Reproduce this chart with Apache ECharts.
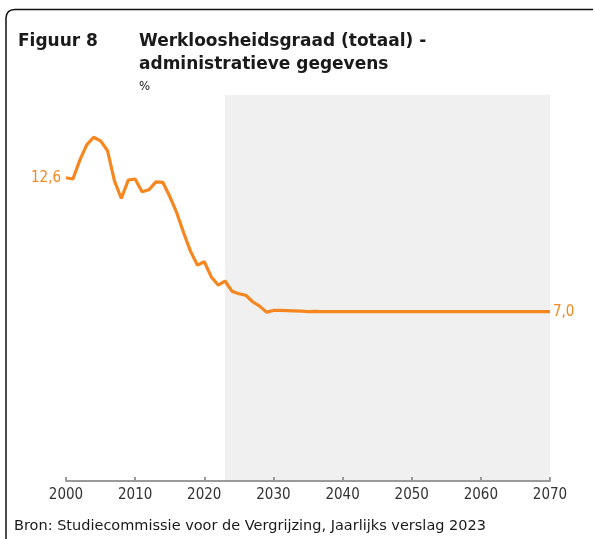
<!DOCTYPE html>
<html>
<head>
<meta charset="utf-8">
<script src="https://cdn.jsdelivr.net/npm/echarts@6/dist/echarts.min.js"></script>
<style>
  html, body { margin: 0; padding: 0; background: #fff; }
  #chart { width: 595px; height: 539px; }
</style>
</head>
<body>
<div id="chart"></div>
<script>
  // jaren 2000 - 2070
  var years = [
    2000, 2001, 2002, 2003, 2004, 2005, 2006, 2007, 2008, 2009,
    2010, 2011, 2012, 2013, 2014, 2015, 2016, 2017, 2018, 2019,
    2020, 2021, 2022, 2023, 2024, 2025, 2026, 2027, 2028, 2029,
    2030, 2031, 2032, 2033, 2034, 2035, 2036, 2037, 2038, 2039,
    2040, 2041, 2042, 2043, 2044, 2045, 2046, 2047, 2048, 2049,
    2050, 2051, 2052, 2053, 2054, 2055, 2056, 2057, 2058, 2059,
    2060, 2061, 2062, 2063, 2064, 2065, 2066, 2067, 2068, 2069,
    2070
  ]
  // werkloosheidsgraad in %
  var rates = [
    12.57, 12.52, 13.3, 13.93, 14.25, 14.1, 13.7, 12.45, 11.71, 12.47,
    12.52, 11.99, 12.07, 12.4, 12.38, 11.8, 11.13, 10.3, 9.53, 8.95,
    9.09, 8.47, 8.12, 8.29, 7.87, 7.76, 7.7, 7.43, 7.25, 7.0,
    7.07, 7.07, 7.06, 7.05, 7.04, 7.02, 7.03, 7.02, 7.02, 7.02,
    7.02, 7.02, 7.02, 7.02, 7.02, 7.02, 7.02, 7.02, 7.02, 7.02,
    7.02, 7.02, 7.02, 7.02, 7.02, 7.02, 7.02, 7.02, 7.02, 7.02,
    7.02, 7.02, 7.02, 7.02, 7.02, 7.02, 7.02, 7.02, 7.02, 7.02,
    7.02
  ]
  var projectionStart = 2023
  var projectionEnd = 2070

  var orange = '#F6861F'
  var font = 'DejaVu Sans Condensed, DejaVu Sans, sans-serif'

  function fmt(v) {
    return v.toFixed(1).replace('.', ',')
  }

  var chart = echarts.init(document.getElementById('chart'))
  chart.setOption({
    animation: false,
    textStyle: { fontFamily: font },
    title: [
      {
        text: 'Figuur 8', left: 18, top: 30, padding: 0,
        textStyle: { fontFamily: 'DejaVu Sans', fontSize: 17, fontWeight: 'bold', color: '#1a1a1a', lineHeight: 23 }
      },
      {
        text: 'Werkloosheidsgraad (totaal) -\nadministratieve gegevens', left: 139, top: 30, padding: 0,
        textStyle: { fontFamily: 'DejaVu Sans', fontSize: 17, fontWeight: 'bold', color: '#1a1a1a', lineHeight: 23 }
      },
      {
        text: '%', left: 139, top: 80, padding: 0,
        textStyle: { fontFamily: font, fontSize: 13, fontWeight: 'normal', color: '#1a1a1a' }
      },
      {
        text: 'Bron: Studiecommissie voor de Vergrijzing, Jaarlijks verslag 2023', left: 14, top: 519, padding: 0,
        textStyle: { fontFamily: 'DejaVu Sans', fontSize: 14.5, fontWeight: 'normal', color: '#1a1a1a' }
      }
    ],
    graphic: [
      {
        type: 'polyline',
        shape: { points: [[6, 539], [6, 18], [6.7, 14.3], [8.5, 11.6], [11, 10.1], [15, 9.5], [593, 9.5]] },
        style: { stroke: '#111', lineWidth: 1.5, fill: null }
      }
    ],
    grid: { left: 66, right: 45, top: 95, bottom: 58 },
    xAxis: {
      type: 'value',
      min: 2000,
      max: 2070,
      interval: 10,
      z: 4,
      axisLine: { lineStyle: { color: '#9a9a9a', width: 2 } },
      axisTick: { inside: true, length: 4, lineStyle: { color: '#9a9a9a', width: 2 } },
      axisLabel: {
        color: '#333', fontSize: 15, margin: 7, fontFamily: font,
        formatter: function (v) { return String(v) }
      },
      splitLine: { show: false }
    },
    yAxis: {
      type: 'value',
      min: 0,
      max: 16,
      show: false
    },
    series: [
      {
        type: 'line',
        data: years.map(function (y, i) { return [y, rates[i]] }),
        showSymbol: false,
        lineStyle: { color: orange, width: 3.2 },
        itemStyle: { color: orange },
        z: 3,
        endLabel: {
          show: true,
          distance: 3,
          color: orange,
          fontSize: 15,
          fontFamily: font,
          formatter: function (p) { return fmt(p.value[1]) }
        },
        markPoint: {
          symbol: 'circle',
          symbolSize: 0,
          data: [{ coord: [years[0], rates[0]], value: rates[0] }],
          label: {
            show: true,
            position: 'left',
            distance: 5,
            color: orange,
            fontSize: 15,
            fontFamily: font,
            formatter: function (p) { return fmt(p.value) }
          }
        },
        markArea: {
          silent: true,
          itemStyle: { color: '#f0f0f0' },
          data: [[{ xAxis: projectionStart }, { xAxis: projectionEnd }]]
        }
      }
    ]
  })
</script>
</body>
</html>
